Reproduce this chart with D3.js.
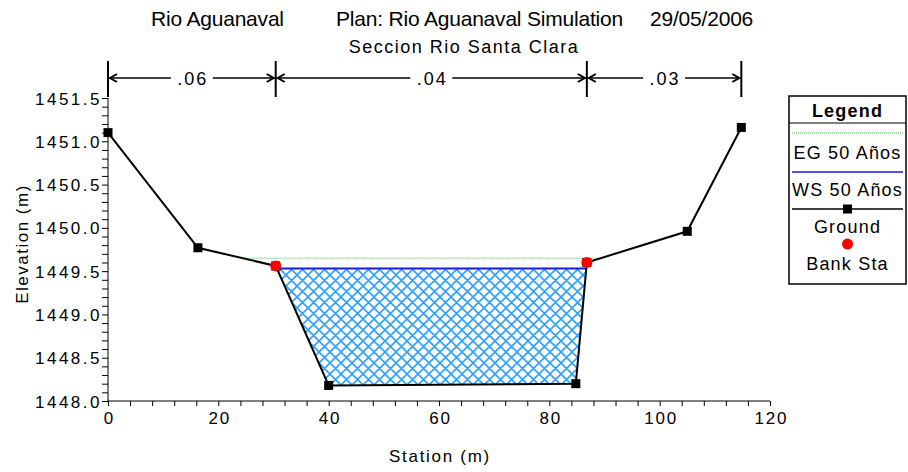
<!DOCTYPE html>
<html>
<head>
<meta charset="utf-8">
<title>Seccion Rio Santa Clara</title>
<script src="https://cdn.jsdelivr.net/npm/d3@7"></script>
<style>
  body { margin: 0; background: #fff; }
  svg { display: block; font-family: "Liberation Sans", Arial, sans-serif; }
  .axis path, .axis line { stroke: #000; stroke-width: 1px; }
  .axis text { font-size: 17px; fill: #000; }
</style>
</head>
<body>
<script>
// ground profile (station m, elevation m)
const groundSta = [0, 16.3, 30.4, 40, 84.8, 86.8, 105, 114.8];
const groundElev = [1451.1, 1449.77, 1449.56, 1448.18, 1448.2, 1449.6, 1449.96, 1451.16];
// bank stations
const bankSta = [30.4, 86.8];
// water levels
const wsElev = 1449.53;
const egElev = 1449.65;
// manning n values per reach
const nLabels = [".06", ".04", ".03"];
const nBounds = [0, 30.4, 86.8, 114.8];
const xTicks = [0, 20, 40, 60, 80, 100, 120];
const yTicks = [1448.0, 1448.5, 1449.0, 1449.5, 1450.0, 1450.5, 1451.0, 1451.5];

const W = 908, H = 472;
const svg = d3.select("body").append("svg").attr("width", W).attr("height", H);

const x = d3.scaleLinear().domain([0, 120]).range([108, 770]);
const y = d3.scaleLinear().domain([1448, 1451.5]).range([401, 98]);

const defs = svg.append("defs");
const pat = defs.append("pattern")
    .attr("id", "hatch").attr("patternUnits", "userSpaceOnUse")
    .attr("width", 11).attr("height", 11);
pat.append("path").attr("d", "M0,0L11,11M0,11L11,0M-1,1L1,-1M10,12L12,10M-1,10L1,12M10,-1L12,1")
    .attr("stroke", "#2ea0ff").attr("stroke-width", 1.6).attr("fill", "none");

// find where ground crosses a level on both sides of the channel
function crossings(level) {
    const pts = groundSta.map((s, i) => [s, groundElev[i]]);
    let left = null, right = null;
    for (let i = 0; i < pts.length - 1; i++) {
        const [s0, e0] = pts[i], [s1, e1] = pts[i + 1];
        if (e0 >= level && e1 < level && left === null) {
            left = { s: s0 + (e0 - level) / (e0 - e1) * (s1 - s0), i: i + 1 };
        }
        if (e0 < level && e1 >= level) {
            right = { s: s0 + (level - e0) / (e1 - e0) * (s1 - s0), i: i };
        }
    }
    return { left, right, pts };
}

// water polygon
const wc = crossings(wsElev);
const water = [[wc.left.s, wsElev]];
for (let i = wc.left.i; i <= wc.right.i; i++) water.push(wc.pts[i]);
water.push([wc.right.s, wsElev]);

svg.append("path")
    .attr("d", d3.line().x(d => x(d[0])).y(d => y(d[1]))(water) + "Z")
    .attr("fill", "url(#hatch)");

// energy grade line
const ec = crossings(egElev);
svg.append("line")
    .attr("x1", x(ec.left.s)).attr("x2", x(ec.right.s))
    .attr("y1", y(egElev)).attr("y2", y(egElev))
    .attr("stroke", "#8cc88c").attr("stroke-width", 1.5).attr("stroke-dasharray", "1,1");

// water surface
svg.append("line")
    .attr("x1", x(wc.left.s)).attr("x2", x(wc.right.s))
    .attr("y1", y(wsElev)).attr("y2", y(wsElev))
    .attr("stroke", "#1a1ae0").attr("stroke-width", 2);

// axes
const yAxis = svg.append("g").attr("class", "axis").attr("transform", "translate(108,0)");
yAxis.call(d3.axisLeft(y).tickValues(d3.range(14480, 14516).map(d => d / 10)).tickSize(6).tickFormat(""))
    .call(g => g.select(".domain").remove());
yAxis.append("line").attr("y1", y(1448)).attr("y2", y(1451.5)).attr("stroke", "#000");
const yLab = svg.append("g").attr("class", "axis").attr("transform", "translate(108,0)")
    .call(d3.axisLeft(y).tickValues(yTicks).tickSize(0).tickPadding(6).tickFormat(d3.format(".1f")))
    .call(g => g.select(".domain").remove());
yLab.selectAll("text").attr("dy", "0.36em").attr("letter-spacing", "2.5px");

const xAxis = svg.append("g").attr("class", "axis").attr("transform", "translate(0,401)");
xAxis.call(d3.axisBottom(x).tickValues(d3.range(0, 121, 4)).tickSize(5).tickFormat(""))
    .call(g => g.select(".domain").remove());
xAxis.append("line").attr("x1", x(0)).attr("x2", x(120)).attr("stroke", "#000");
const xLab = svg.append("g").attr("class", "axis").attr("transform", "translate(0,401)")
    .call(d3.axisBottom(x).tickValues(xTicks).tickSize(0).tickPadding(11))
    .call(g => g.select(".domain").remove());
xLab.selectAll("text").attr("letter-spacing", "1.8px").attr("dx", "0.9px");

// ground line and points
svg.append("path")
    .datum(groundSta.map((s, i) => [s, groundElev[i]]))
    .attr("d", d3.line().x(d => x(d[0])).y(d => y(d[1])))
    .attr("fill", "none").attr("stroke", "#000").attr("stroke-width", 2);
svg.selectAll(".gpt").data(groundSta).enter().append("rect")
    .attr("class", "gpt")
    .attr("x", d => x(d) - 4.5)
    .attr("y", (d, i) => y(groundElev[i]) - 4.5)
    .attr("width", 9).attr("height", 9).attr("fill", "#000");

// bank stations
svg.selectAll(".bank").data(bankSta).enter().append("circle")
    .attr("cx", d => x(d))
    .attr("cy", d => y(groundElev[groundSta.indexOf(d)]))
    .attr("r", 5.5).attr("fill", "#ff0000");

// n-value dimension lines
const dimY = 78;
const dim = svg.append("g");
nBounds.forEach(b => {
    dim.append("line").attr("x1", x(b)).attr("x2", x(b)).attr("y1", 61).attr("y2", 97)
        .attr("stroke", "#000").attr("stroke-width", 2);
});
nLabels.forEach((lab, i) => {
    const x0 = x(nBounds[i]), x1 = x(nBounds[i + 1]), xm = (x0 + x1) / 2;
    const half = 21;
    dim.append("line").attr("x1", x0 + 1).attr("x2", xm - half).attr("y1", dimY).attr("y2", dimY)
        .attr("stroke", "#000").attr("stroke-width", 1.5);
    dim.append("line").attr("x1", xm + half).attr("x2", x1 - 1).attr("y1", dimY).attr("y2", dimY)
        .attr("stroke", "#000").attr("stroke-width", 1.5);
    dim.append("path").attr("d", `M${x0 + 9},${dimY - 4}L${x0 + 2},${dimY}L${x0 + 9},${dimY + 4}`)
        .attr("fill", "none").attr("stroke", "#000").attr("stroke-width", 2);
    dim.append("path").attr("d", `M${x1 - 9},${dimY - 4}L${x1 - 2},${dimY}L${x1 - 9},${dimY + 4}`)
        .attr("fill", "none").attr("stroke", "#000").attr("stroke-width", 2);
    dim.append("text").attr("x", xm + 1).attr("y", dimY + 6.5)
        .attr("text-anchor", "middle").attr("font-size", 18).attr("letter-spacing", "2px")
        .text(lab);
});

// titles
const t1 = svg.append("g").attr("font-size", 21).attr("letter-spacing", "-0.2px");
t1.append("text").attr("x", 151).attr("y", 26).text("Rio Aguanaval");
t1.append("text").attr("x", 336).attr("y", 26).text("Plan: Rio Aguanaval Simulation");
t1.append("text").attr("x", 650).attr("y", 26).text("29/05/2006");
svg.append("text").attr("x", 464).attr("y", 53).attr("text-anchor", "middle")
    .attr("font-size", 18).attr("letter-spacing", "1.5px").text("Seccion Rio Santa Clara");

// axis titles
svg.append("text").attr("x", 440).attr("y", 462).attr("text-anchor", "middle")
    .attr("font-size", 17).attr("letter-spacing", "1.7px").text("Station (m)");
svg.append("text").attr("transform", "translate(28,244) rotate(-90)").attr("text-anchor", "middle")
    .attr("font-size", 17).attr("letter-spacing", "1.5px").text("Elevation (m)");

// legend
const lg = svg.append("g").attr("transform", "translate(789,96)");
const lw = 117;
lg.append("rect").attr("width", lw).attr("height", 188)
    .attr("fill", "#fff").attr("stroke", "#000").attr("stroke-width", 1.5);
lg.append("line").attr("x1", 0).attr("x2", lw).attr("y1", 27).attr("y2", 27).attr("stroke", "#000");
lg.append("text").attr("x", lw / 2).attr("y", 21).attr("text-anchor", "middle")
    .attr("font-size", 18).attr("font-weight", "bold").attr("letter-spacing", "1.2px").text("Legend");
lg.append("line").attr("x1", 3).attr("x2", lw - 3).attr("y1", 37).attr("y2", 37)
    .attr("stroke", "#8cc88c").attr("stroke-width", 1.5).attr("stroke-dasharray", "1,1");
lg.append("line").attr("x1", 3).attr("x2", lw - 3).attr("y1", 76).attr("y2", 76)
    .attr("stroke", "#1a1ae0").attr("stroke-width", 1.5);
lg.append("line").attr("x1", 3).attr("x2", lw - 3).attr("y1", 113).attr("y2", 113)
    .attr("stroke", "#000").attr("stroke-width", 1.5);
lg.append("rect").attr("x", lw / 2 - 4.5).attr("y", 108.5).attr("width", 9).attr("height", 9).attr("fill", "#000");
lg.append("circle").attr("cx", lw / 2).attr("cy", 148).attr("r", 5.5).attr("fill", "#ff0000");
const items = [["EG 50 Años", 63], ["WS 50 Años", 100], ["Ground", 137], ["Bank Sta", 174]];
items.forEach(([t, yy]) => {
    lg.append("text").attr("x", lw / 2).attr("y", yy).attr("text-anchor", "middle")
        .attr("font-size", 18).attr("letter-spacing", "1.2px").text(t);
});
</script>
</body>
</html>
